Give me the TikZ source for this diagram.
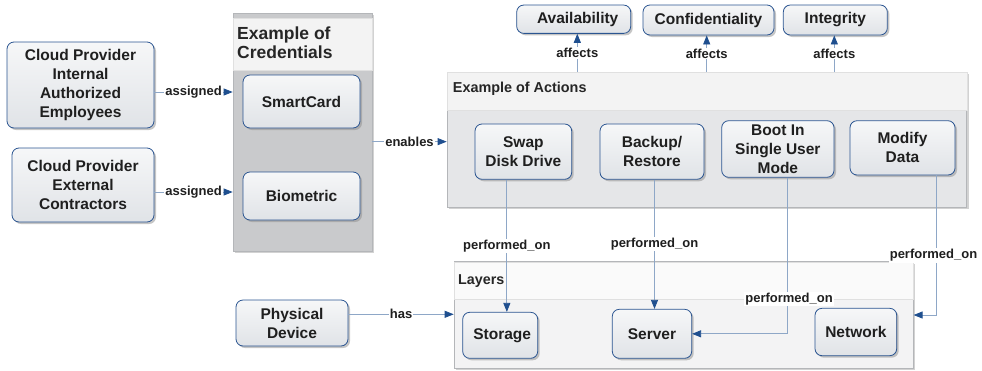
\documentclass[tikz,border=0pt]{standalone}
\usepackage{fontspec}
\setmainfont{Liberation Sans}
\usetikzlibrary{arrows.meta,shadows,calc}
\definecolor{nodeborder}{HTML}{2B5591}
\definecolor{arrowblue}{HTML}{1F4F8F}
\definecolor{linecol}{HTML}{8EA7C7}
\definecolor{credfill}{HTML}{C9CACC}
\definecolor{actfill}{HTML}{E5E6E8}
\definecolor{layfill}{HTML}{F3F3F4}
\definecolor{hdrfill}{HTML}{F3F3F3}
\definecolor{contborder}{HTML}{B4B6B9}
\definecolor{boxtop}{HTML}{F6F7F8}
\definecolor{boxbot}{HTML}{E0E3E7}
\tikzset{
  box/.style={draw=nodeborder, line width=0.8pt, rounded corners=7pt,
    top color=boxtop, bottom color=boxbot,
    drop shadow={shadow xshift=2pt, shadow yshift=-2pt, fill=black!45},
    align=center, inner sep=1pt, text=black!88,
    font=\bfseries\fontsize{15.5}{19}\selectfont},
  container/.style={draw=contborder, line width=0.6pt, inner sep=0pt,
    drop shadow={shadow xshift=2pt, shadow yshift=-2pt, fill=black!35}},
  header/.style={draw=black!12, fill=hdrfill, line width=0.4pt, inner sep=0pt},
  title/.style={anchor=west, align=left, inner sep=0pt, text=black!85},
  lbl/.style={fill=white, inner sep=1pt, font=\bfseries\fontsize{13}{15}\selectfont, text=black!88},
  conn/.style={draw=linecol, line width=0.8pt, -{Triangle[length=9pt,width=7pt,color=arrowblue]}},
}
\begin{document}
\begin{tikzpicture}[x=1pt,y=-1pt]
\useasboundingbox (0,0) rectangle (982,370);

% containers
\node[container, fill=credfill, minimum width=139pt, minimum height=238pt] (cred) at (302.5,132) {};
\node[header, minimum width=139pt, minimum height=52pt] (credhdr) at (302.5,44) {};
\node[title, font=\bfseries\fontsize{17.5}{19}\selectfont] (credtitle) at (237,42.5) {Example of\\Credentials};

\node[container, fill=actfill, minimum width=519.7pt, minimum height=135.3pt] (act) at (706.85,139.65) {};
\node[header, minimum width=519.7pt, minimum height=38pt] (acthdr) at (706.85,91) {};
\node[title, font=\bfseries\fontsize{14.4}{16}\selectfont] (acttitle) at (452.7,89) {Example of Actions};

\node[container, fill=layfill, minimum width=459.3pt, minimum height=106.6pt] (lay) at (683.65,315) {};
\node[header, fill=white!55!hdrfill, minimum width=459.3pt, minimum height=37.6pt] (layhdr) at (683.65,280.5) {};
\node[title, font=\bfseries\fontsize{14.3}{16}\selectfont] (laytitle) at (458,280.7) {Layers};

% left nodes
\node[box, minimum width=147pt, minimum height=86pt] (emp) at (80.5,85) {Cloud Provider\\Internal\\Authorized\\Employees};
\node[box, minimum width=142pt, minimum height=74pt] (con) at (83,185) {Cloud Provider\\External\\Contractors};
\node[box, minimum width=117pt, minimum height=53pt] (smart) at (301.5,101.5) {SmartCard};
\node[box, minimum width=117pt, minimum height=48pt] (bio) at (301.5,196) {Biometric};
\node[box, minimum width=112pt, minimum height=46pt] (phys) at (292,323) {Physical\\Device};

% top nodes
\node[box, minimum width=114pt, minimum height=28.3pt] (avail) at (573.7,19.2) {\hspace*{8pt}Availability};
\node[box, minimum width=131pt, minimum height=30pt] (conf) at (708.5,20) {Confidentiality};
\node[box, minimum width=104pt, minimum height=30pt] (integ) at (835.3,20) {Integrity};

% action nodes
\node[box, minimum width=96.7pt, minimum height=55.3pt] (swap) at (523.35,151.65) {Swap\\Disk Drive};
\node[box, minimum width=104pt, minimum height=55.3pt] (backup) at (652,151.65) {Backup/\\Restore};
\node[box, minimum width=112.3pt, minimum height=56.6pt] (boot) at (777.85,149) {Boot In\\Single User\\Mode};
\node[box, minimum width=105pt, minimum height=54.3pt] (modify) at (902.5,147.85) {Modify\\Data};

% layer nodes
\node[box, minimum width=75pt, minimum height=46pt] (storage) at (500.2,335.3) {\hspace*{4pt}Storage};
\node[box, minimum width=79.4pt, minimum height=49pt] (server) at (652,333.8) {Server};
\node[box, minimum width=81.7pt, minimum height=47.4pt] (network) at (855.85,332) {Network};

% connectors
\draw[conn] ([yshift=-7pt]emp.east) -- ([yshift=-7pt]emp.east -| cred.west) node[lbl, midway] {assigned};
\draw[conn] ([yshift=-7pt]con.east) -- ([yshift=-7pt]con.east -| cred.west) node[lbl, midway] {assigned};
\draw[conn] ([yshift=-2pt]act.west -| cred.east) -- ([yshift=-2pt]act.west) node[lbl, midway] {enables};

\draw[conn] ([xshift=3.6pt]avail.south |- act.north) -- ([xshift=3.6pt]avail.south) node[lbl, midway] {affects};
\draw[conn] ([xshift=-1.8pt]conf.south |- act.north) -- ([xshift=-1.8pt]conf.south) node[lbl, midway] {affects};
\draw[conn] ([xshift=-1pt]integ.south |- act.north) -- ([xshift=-1pt]integ.south) node[lbl, midway] {affects};

\draw[conn] ([xshift=-16.5pt]swap.south) -- ([xshift=-16.5pt]swap.south |- storage.north) node[lbl, midway] {performed\_on};
\draw[conn] ([xshift=2.5pt]backup.south) -- ([xshift=2.5pt]backup.south |- server.north) node[lbl, midway] {performed\_on};
\draw[conn] ([xshift=9.7pt]boot.south) |- (server.east) node[lbl, pos=0.388, xshift=1.5pt] {performed\_on};
\draw[conn] ([xshift=34pt]modify.south) |- (lay.east) node[lbl, pos=0.287, xshift=-3pt] {performed\_on};

\draw[conn] ([yshift=8.7pt]phys.east) -- ([yshift=8.7pt]phys.east -| lay.west) node[lbl, midway] {has};
\end{tikzpicture}
\end{document}
